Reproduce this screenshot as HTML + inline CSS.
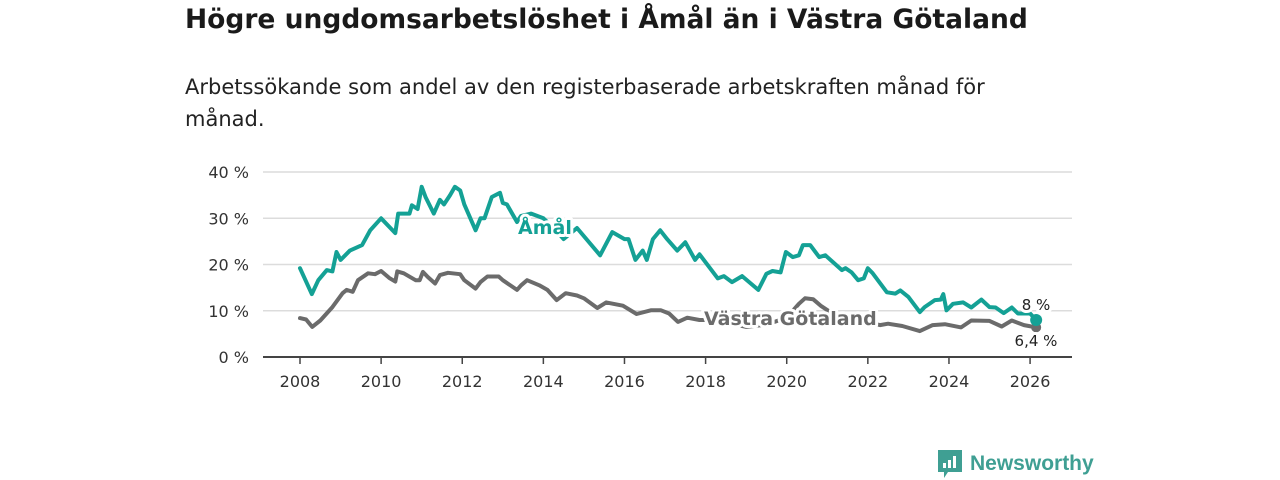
<!DOCTYPE html>
<html><head><meta charset="utf-8">
<style>
body{margin:0;width:1280px;height:480px;background:#fff;font-family:"DejaVu Sans","Liberation Sans",sans-serif;overflow:hidden;position:relative;color:#1a1a1a}
.title{position:absolute;left:185px;top:4px;font-size:26.5px;font-weight:bold;white-space:nowrap}
.sub{position:absolute;left:185px;top:71px;font-size:21px;line-height:32px;width:900px;color:#222;white-space:nowrap}
svg{position:absolute;left:0;top:0}
</style></head><body>
<div class="title">Högre ungdomsarbetslöshet i Åmål än i Västra Götaland</div>
<div class="sub">Arbetssökande som andel av den registerbaserade arbetskraften månad för<br>månad.</div>
<svg id="chart" width="1280" height="480"></svg>
<script>
const yTicks=[0,10,20,30,40];
const yTickLabels=["0 %","10 %","20 %","30 %","40 %"];
const xTicks=[2008,2010,2012,2014,2016,2018,2020,2022,2024,2026];
const amalT=[2008.0,2008.29,2008.45,2008.66,2008.8,2008.9,2009.0,2009.23,2009.53,2009.73,2010.0,2010.35,2010.42,2010.7,2010.76,2010.9,2011.0,2011.1,2011.3,2011.45,2011.55,2011.7,2011.82,2011.95,2012.05,2012.33,2012.45,2012.55,2012.73,2012.93,2013.0,2013.1,2013.35,2013.45,2013.7,2014.0,2014.3,2014.5,2014.83,2015.4,2015.7,2016.0,2016.1,2016.27,2016.45,2016.55,2016.7,2016.88,2017.05,2017.3,2017.5,2017.74,2017.85,2018.3,2018.45,2018.65,2018.9,2019.3,2019.5,2019.65,2019.85,2019.98,2020.15,2020.3,2020.4,2020.58,2020.8,2020.95,2021.36,2021.45,2021.6,2021.76,2021.9,2022.0,2022.12,2022.47,2022.68,2022.8,2023.0,2023.28,2023.4,2023.65,2023.8,2023.86,2023.94,2024.1,2024.35,2024.55,2024.8,2025.0,2025.15,2025.35,2025.55,2025.7,2026.0,2026.15];
const amalV=[19.2,13.6,16.6,18.8,18.5,22.7,21,23,24.2,27.4,30,26.8,31,31,32.8,32,36.8,34.5,31,34,33,35,36.8,36,33,27.4,30,30,34.6,35.5,33.3,33,29.2,30.5,31,30,27.5,25.5,27.9,22,27,25.5,25.5,21,23,21,25.5,27.4,25.5,23,24.8,21,22.2,17,17.5,16.2,17.5,14.5,18,18.6,18.3,22.7,21.6,22,24.2,24.2,21.6,22,18.8,19.2,18.3,16.6,17,19.2,18.1,14,13.7,14.4,13,9.7,10.8,12.3,12.4,13.6,10.1,11.5,11.8,10.7,12.4,10.8,10.7,9.5,10.7,9.4,9.4,8];
const vgT=[2008.0,2008.15,2008.3,2008.5,2008.8,2009.05,2009.15,2009.3,2009.43,2009.68,2009.85,2010.0,2010.2,2010.35,2010.4,2010.56,2010.85,2010.95,2011.03,2011.15,2011.33,2011.45,2011.65,2011.95,2012.05,2012.33,2012.45,2012.62,2012.9,2013.0,2013.35,2013.45,2013.6,2013.9,2014.1,2014.33,2014.55,2014.83,2015.0,2015.33,2015.55,2015.96,2016.3,2016.65,2016.9,2017.1,2017.32,2017.55,2017.85,2018.1,2018.5,2019.0,2019.5,2020.0,2020.3,2020.45,2020.65,2020.85,2021.2,2021.6,2022.0,2022.3,2022.5,2022.85,2023.28,2023.6,2023.9,2024.3,2024.55,2025.0,2025.3,2025.55,2025.85,2026.15];
const vgV=[8.4,8.1,6.5,7.9,10.8,13.8,14.5,14.1,16.6,18.1,17.9,18.6,17.1,16.3,18.5,18.1,16.6,16.6,18.4,17.3,15.9,17.7,18.2,17.9,16.6,14.8,16.2,17.4,17.4,16.6,14.5,15.5,16.6,15.5,14.5,12.3,13.8,13.3,12.7,10.6,11.8,11.1,9.3,10.1,10.1,9.4,7.6,8.5,8.0,8,7.5,6.5,7,8.5,11.5,12.7,12.5,11,9,8,7.5,6.9,7.2,6.7,5.6,6.9,7.1,6.4,7.9,7.8,6.6,7.9,6.9,6.4];
const NS="http://www.w3.org/2000/svg";
const svg=document.getElementById('chart');
const X=t=>300+(t-2008)*40.56;
const Y=v=>357-v*4.625;
function mk(tag,attrs,parent){const e=document.createElementNS(NS,tag);for(const k in attrs)e.setAttribute(k,attrs[k]);(parent||svg).appendChild(e);return e;}
yTicks.forEach((v,i)=>{
 if(v>0){const g=mk('line',{x1:263,x2:1072,y1:Y(v),y2:Y(v),stroke:'#dcdcdc','stroke-width':1.5});
 
 }
 const t=mk('text',{x:249,y:Y(v)+6,'text-anchor':'end','font-size':16,fill:'#333'});
 t.textContent=yTickLabels[i];
 
 
});
const ax=mk('line',{x1:263,x2:1072,y1:357,y2:357,stroke:'#444','stroke-width':2});


xTicks.forEach(yr=>{
 const l=mk('line',{x1:X(yr),x2:X(yr),y1:357,y2:364,stroke:'#444','stroke-width':1.5});
 
 
 const t=mk('text',{x:X(yr),y:387,'text-anchor':'middle','font-size':16,fill:'#333'});
 t.textContent=yr;
 
 
});
function line(T,V,color,name){
 const d=T.map((t,i)=>(i?'L':'M')+X(t).toFixed(1)+','+Y(V[i]).toFixed(1)).join('');
 const p=mk('path',{d:d,fill:'none',stroke:color,'stroke-width':4,'stroke-linejoin':'round','stroke-linecap':'round'});
 
 
}
line(vgT,vgV,'#6b6b6b','vastra-gotaland-line');
line(amalT,amalV,'#14a195','amal-line');
const d1=mk('circle',{cx:X(vgT[vgT.length-1]),cy:Y(vgV[vgV.length-1]),r:5,fill:'#6b6b6b'});


const d2=mk('circle',{cx:X(amalT[amalT.length-1]),cy:Y(amalV[amalV.length-1]),r:6,fill:'#14a195'});


function lab(x,y,txt,col,size,w,name,anchor){
 const t=mk('text',{x:x,y:y,'font-size':size,'font-weight':w,fill:col,stroke:'#fff','stroke-width':6,'paint-order':'stroke','stroke-linejoin':'round','text-anchor':anchor||'start'});
 t.textContent=txt;
 
 
}
lab(518,234,'Åmål','#14a195',19,'bold','amal-series-label');
lab(704,325,'Västra Götaland','#6b6b6b',19,'bold','vastra-gotaland-series-label');
lab(1036,310,'8 %','#222',15,'normal','amal-end-value','middle');
lab(1036,346,'6,4 %','#222',15,'normal','vastra-gotaland-end-value','middle');
const g=mk('g',{});


mk('path',{d:'M938 450h24v22h-14l-4 6v-6h-6z',fill:'#3f9f93'},g);
mk('rect',{x:943,y:463,width:3,height:5,fill:'#fff'},g);
mk('rect',{x:948,y:460,width:3,height:8,fill:'#fff'},g);
mk('rect',{x:953,y:456,width:3,height:12,fill:'#fff'},g);
const lt=mk('text',{x:970,y:470,'font-size':21,'font-weight':'bold',fill:'#3f9f93','font-family':'Liberation Sans, sans-serif'},g);
lt.textContent='Newsworthy';
</script>
</body></html>
